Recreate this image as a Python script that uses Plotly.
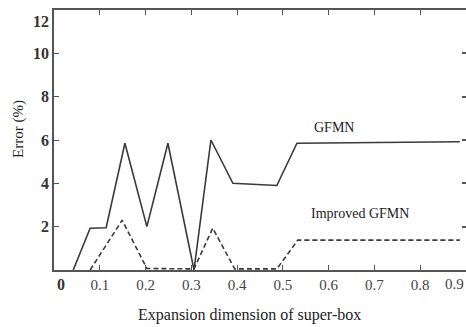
import plotly.graph_objects as go

# GFMN (solid)
gfmn_x = [0.042, 0.079, 0.114, 0.155, 0.203, 0.249, 0.306, 0.343, 0.391, 0.487, 0.531, 0.887]
gfmn_y = [0.0, 1.93, 1.95, 5.85, 2.0, 5.85, 0.0, 6.0, 4.0, 3.9, 5.85, 5.92]

# Improved GFMN (dashed)
imp_x = [0.079, 0.149, 0.203, 0.306, 0.347, 0.395, 0.487, 0.533, 0.887]
imp_y = [0.0, 2.3, 0.07, 0.05, 1.93, 0.05, 0.05, 1.38, 1.38]

x_ticks = [0.1, 0.2, 0.3, 0.4, 0.5, 0.6, 0.7, 0.8, 0.9]
x_tick_labels = ["0.1", "0.2", "0.3", "0.4", "0.5", "0.6", "0.7", "0.8", ""]
x_last_label = "0.9"
y_ticks = [2, 4, 6, 8, 10]
y_tick_labels = ["2", "4", "6", "8", "10"]

FONT = "Liberation Serif, Times New Roman, serif"
LINE = "#3a3a3a"
AX = "#555555"

fig = go.Figure()
fig.add_trace(go.Scatter(x=gfmn_x, y=gfmn_y, mode="lines", name="GFMN",
                         line=dict(color=LINE, width=1.6)))
fig.add_trace(go.Scatter(x=imp_x, y=imp_y, mode="lines", name="Improved GFMN",
                         line=dict(color=LINE, width=1.6, dash="5px,3px")))
# empty trace so the right-hand tick axis is drawn
fig.add_trace(go.Scatter(x=[], y=[], yaxis="y2", hoverinfo="skip", showlegend=False))

fig.update_layout(
    template="none",
    width=466, height=327,
    margin=dict(l=54, r=0, t=10, b=57, autoexpand=False),
    paper_bgcolor="white", plot_bgcolor="white",
    showlegend=False,
    font=dict(family=FONT, color="#333333"),
    xaxis=dict(range=[0, 0.9005], tickvals=x_ticks, ticktext=x_tick_labels, automargin=False,
               showline=True, linecolor=AX, linewidth=1.5, mirror="ticks",
               ticks="inside", ticklen=5, tickcolor=AX, showgrid=False, zeroline=False,
               tickfont=dict(family=FONT, size=15, color="#444444")),
    yaxis=dict(range=[0, 12], tickvals=y_ticks, ticktext=y_tick_labels, automargin=False,
               showline=True, linecolor=AX, linewidth=1.5,
               ticks="inside", ticklen=5, tickcolor=AX, showgrid=False, zeroline=False,
               tickfont=dict(family=FONT, size=16, color="#333333", weight="bold")),
    yaxis2=dict(range=[0, 12], tickvals=y_ticks, overlaying="y", side="right", automargin=False,
                anchor="x", showline=False, showticklabels=False,
                ticks="inside", ticklen=4, tickcolor=AX, tickwidth=1.5,
                showgrid=False, zeroline=False),
)

fig.add_annotation(x=0.015, y=0, yshift=-14, xref="x", yref="y", text="<b>0</b>",
                   xanchor="center", yanchor="middle",
                   showarrow=False, font=dict(family=FONT, size=16, color="#333333"))
fig.add_annotation(x=0.9005, y=0, yshift=-14, xref="x", yref="y", text=x_last_label,
                   xanchor="right", yanchor="middle",
                   showarrow=False, font=dict(family=FONT, size=15, color="#444444"))
fig.add_annotation(x=0, y=11.45, xref="x", yref="y", xanchor="right", yanchor="middle", xshift=-3,
                   text="<b>12</b>", showarrow=False,
                   font=dict(family=FONT, size=16, color="#333333"))
fig.add_annotation(x=0.613, y=6.6, xref="x", yref="y", text="GFMN", showarrow=False,
                   xanchor="center", yanchor="middle",
                   font=dict(family=FONT, size=14, color="#222222"))
fig.add_annotation(x=0.668, y=2.6, xref="x", yref="y", text="Improved GFMN", showarrow=False,
                   xanchor="center", yanchor="middle",
                   font=dict(family=FONT, size=14, color="#222222"))
fig.add_annotation(x=249, y=315, xref="paper", yref="paper", text="Expansion dimension of super-box",
                   xanchor="center", yanchor="middle",
                   showarrow=False, font=dict(family=FONT, size=16, color="#222222"))
fig.add_annotation(x=18, y=129, xref="paper", yref="paper", text="Error (%)", textangle=-90,
                   xanchor="center", yanchor="middle",
                   showarrow=False, font=dict(family=FONT, size=15, color="#222222"))

# convert pixel-positioned annotations to paper coordinates
pw, ph = 466 - 54 - 0, 327 - 10 - 57
for a in fig.layout.annotations:
    if a.xref == "paper":
        a.x = (a.x - 54) / pw
        a.y = (327 - 57 - a.y) / ph

fig.write_html("out.html", config={"displayModeBar": False},
               post_script="document.body.style.margin='0';document.body.style.overflow='hidden';")
